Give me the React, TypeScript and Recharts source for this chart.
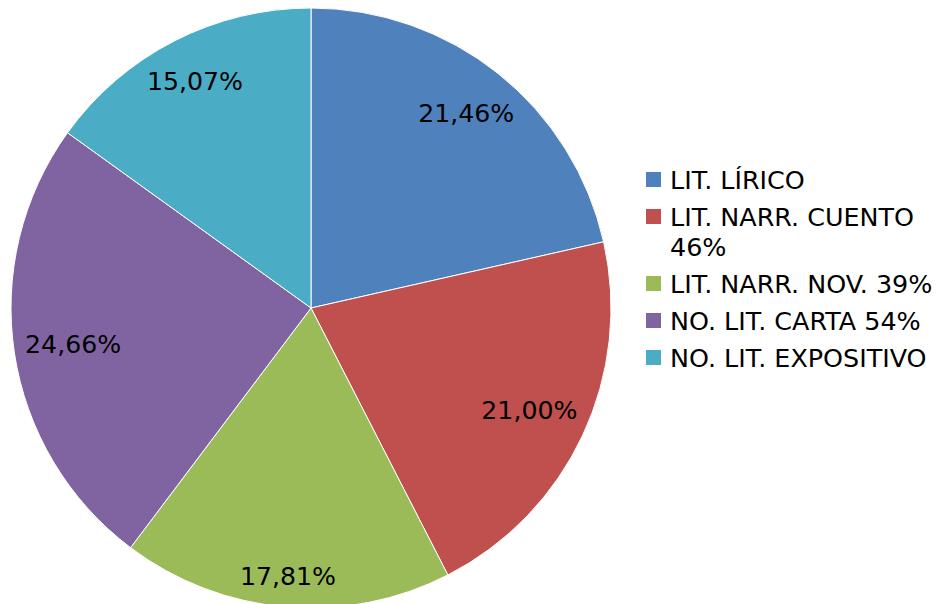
import React from "react";
import { PieChart, Pie, Cell, Legend } from "recharts";

const categories = [
  "LIT. LÍRICO",
  "LIT. NARR. CUENTO 46%",
  "LIT. NARR. NOV. 39%",
  "NO. LIT. CARTA 54%",
  "NO. LIT. EXPOSITIVO",
];
const values = [21.46, 21.0, 17.81, 24.66, 15.07];
const colors = ["#4F81BD", "#C0504D", "#9BBB59", "#8064A2", "#4BACC6"];

const data = categories.map((name, i) => ({ name, value: values[i] }));

const FONT = "'DejaVu Sans', Verdana, sans-serif";
const LABEL_SIZE = 25.2;
const RAD = Math.PI / 180;

const fmt = (v: number) => v.toFixed(2).replace(".", ",") + "%";

const renderLabel = (props: any) => {
  const { cx, cy, midAngle, outerRadius, value } = props;
  const text = fmt(value);
  // approximate DejaVu Sans text box
  const w = text.length * 0.635 * LABEL_SIZE;
  const h = LABEL_SIZE;
  const ux = Math.cos(-midAngle * RAD);
  const uy = Math.sin(-midAngle * RAD);
  const hx = (Math.sign(ux) * w) / 2;
  const hy = (Math.sign(uy) * h) / 2;
  const limit = outerRadius - 10;
  const b = 2 * (ux * hx + uy * hy);
  const c = hx * hx + hy * hy - limit * limit;
  const t = (-b + Math.sqrt(b * b - 4 * c)) / 2;
  const x = cx + t * ux;
  const y = cy + t * uy;
  return (
    <text
      x={x}
      y={y}
      fill="#000"
      textAnchor="middle"
      dominantBaseline="central"
      style={{ fontFamily: FONT, fontSize: LABEL_SIZE }}
    >
      {text}
    </text>
  );
};

const renderLegend = () => (
  <div style={{ fontFamily: FONT, fontSize: 25.4, lineHeight: "30px", color: "#000" }}>
    {categories.map((c, i) => (
      <div key={c} style={{ display: "flex", alignItems: "flex-start", marginBottom: 7 }}>
        <div
          style={{
            width: 15,
            height: 15,
            marginTop: 7,
            marginRight: 9,
            background: colors[i],
            flex: "0 0 auto",
          }}
        />
        <div style={{ width: 275, whiteSpace: "normal" }}>{c}</div>
      </div>
    ))}
  </div>
);

export default function App() {
  return (
    <div style={{ position: "absolute", left: 0, top: 0, width: 936, height: 604, background: "#fff", overflow: "hidden" }}>
      <PieChart width={936} height={604} margin={{ top: 0, right: 0, bottom: 0, left: 0 }}>
        <Pie
          data={data}
          dataKey="value"
          nameKey="name"
          cx={311}
          cy={308}
          outerRadius={300}
          startAngle={90}
          endAngle={-270}
          stroke="#ffffff"
          strokeWidth={1}
          label={renderLabel}
          labelLine={false}
          isAnimationActive={false}
        >
          {data.map((d, i) => (
            <Cell key={d.name} fill={colors[i]} />
          ))}
        </Pie>
        <Legend
          content={renderLegend}
          wrapperStyle={{ left: 646, top: 165, width: 300 }}
        />
      </PieChart>
    </div>
  );
}
